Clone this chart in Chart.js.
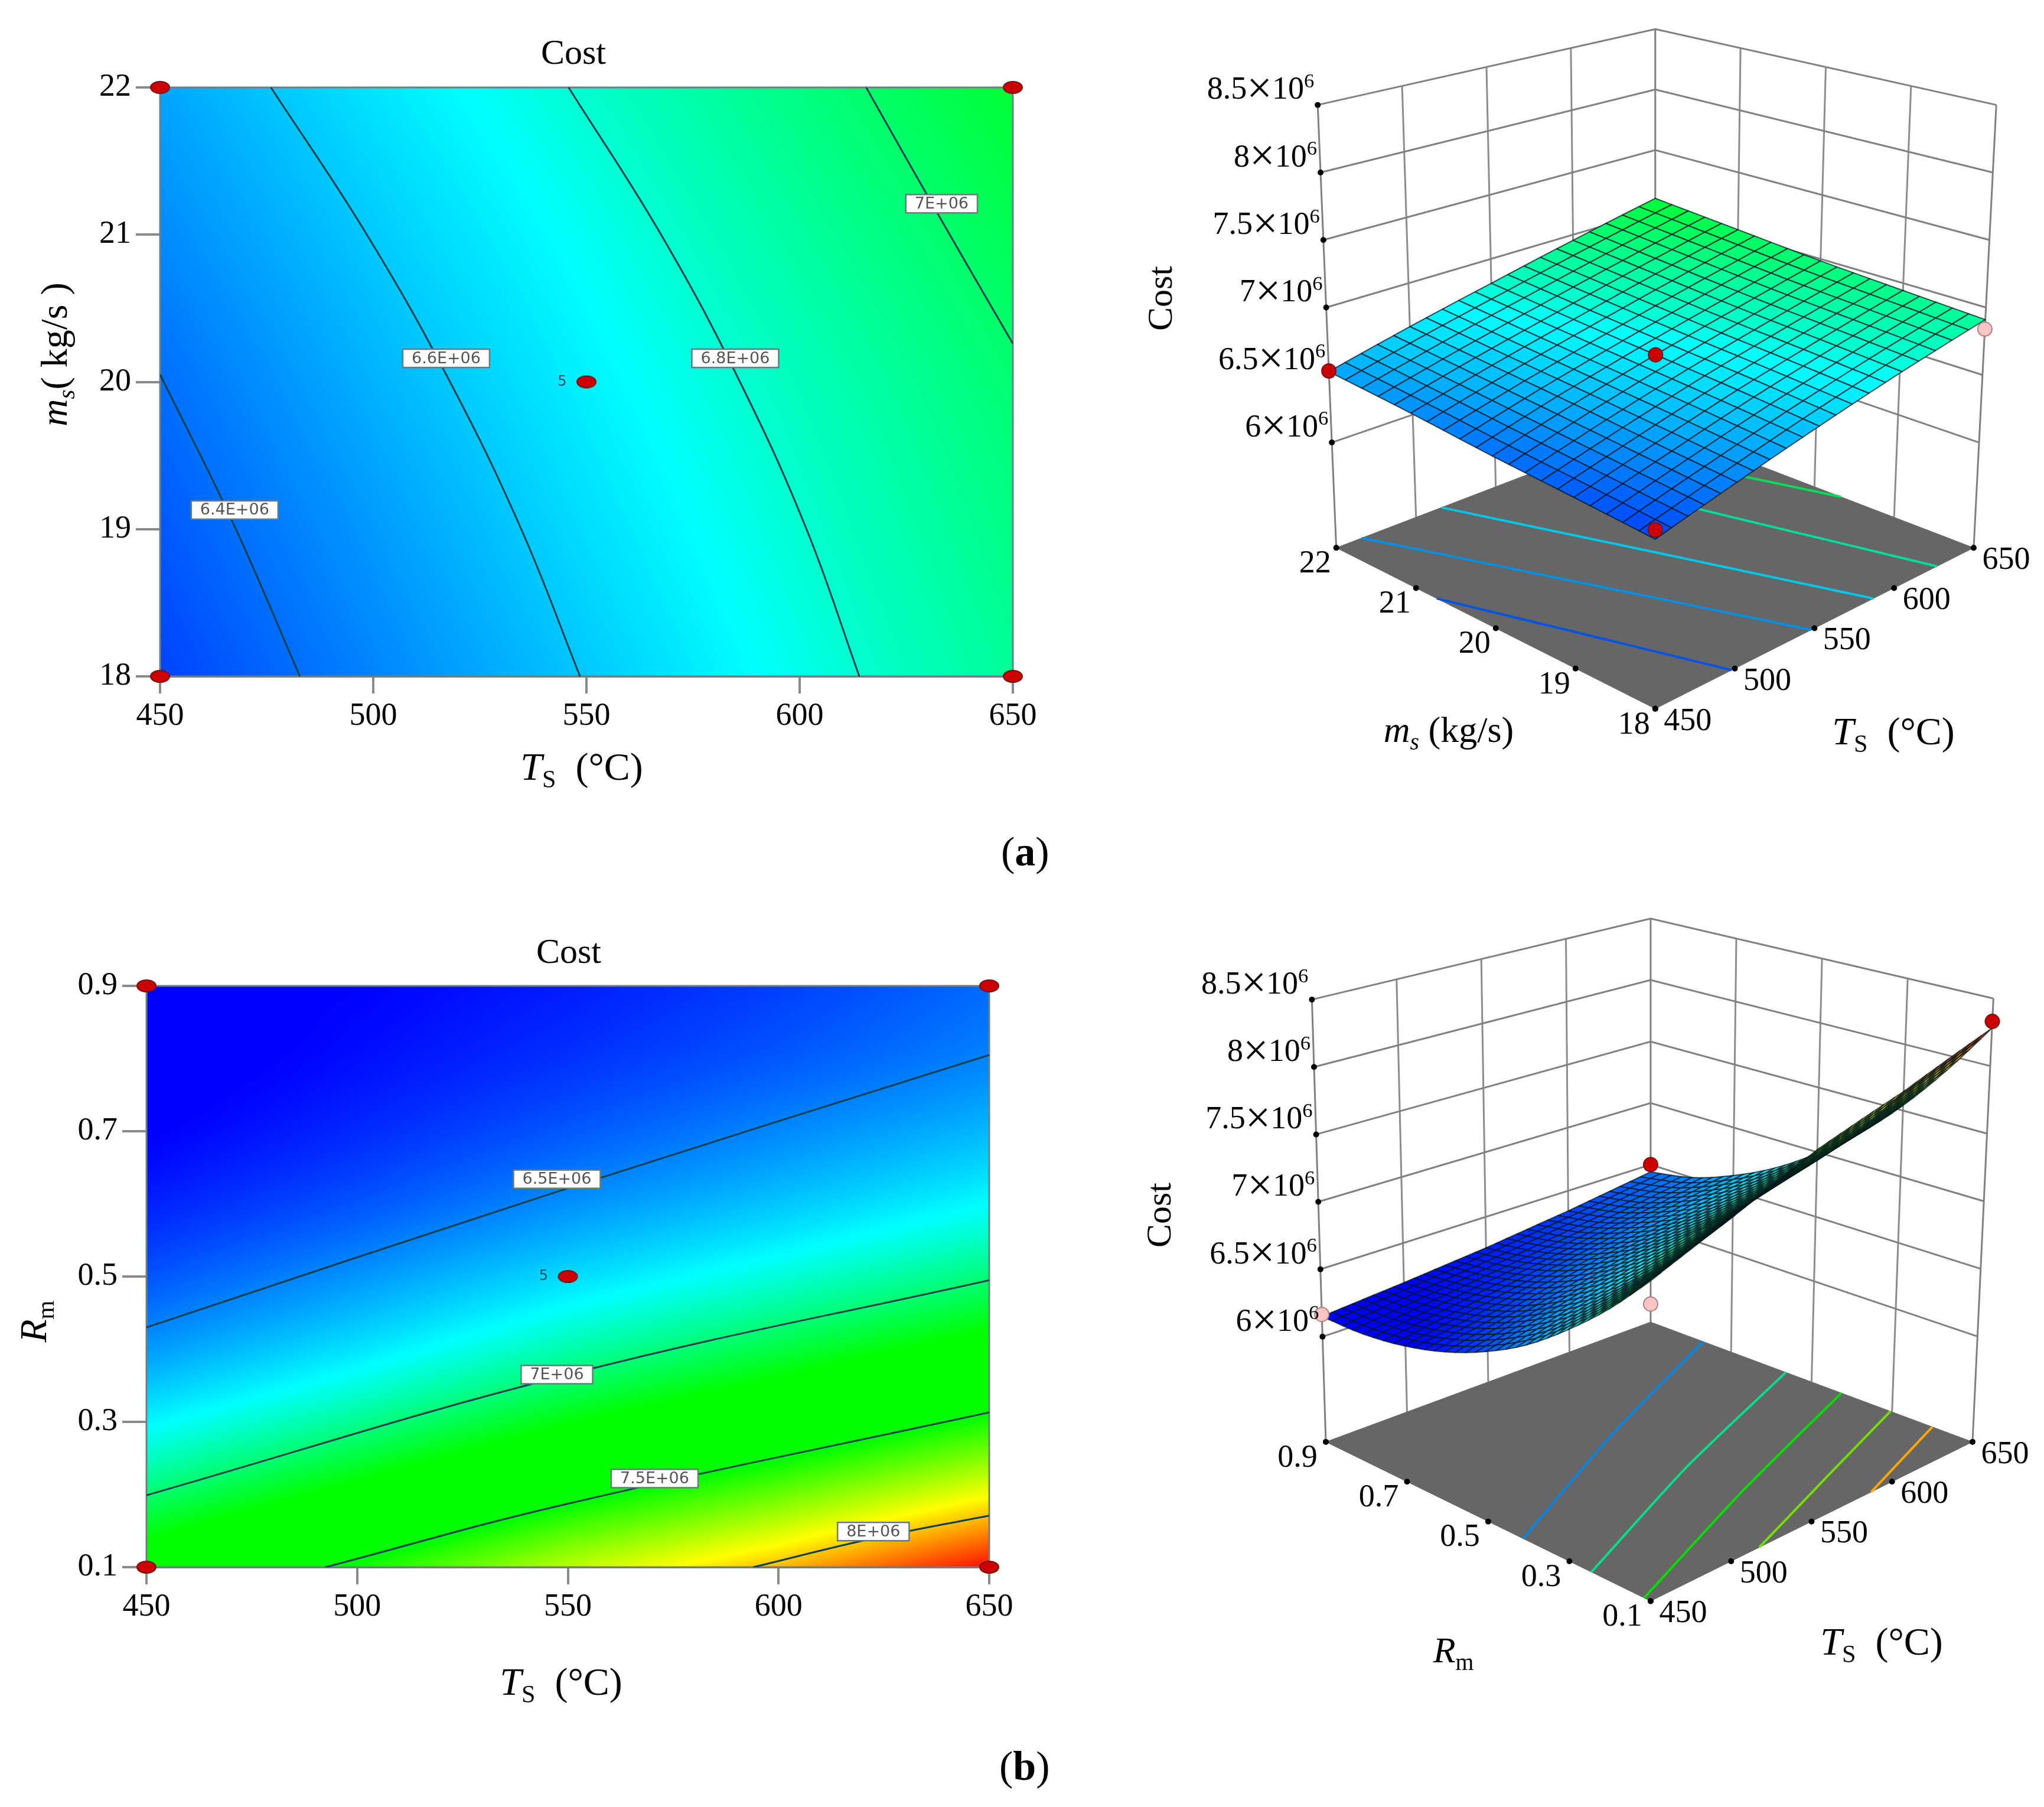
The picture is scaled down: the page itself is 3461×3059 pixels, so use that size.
<!DOCTYPE html>
<html>
<head>
<meta charset="utf-8">
<title>Cost response surfaces</title>
<script src="https://cdn.jsdelivr.net/npm/chart.js@4/dist/chart.umd.min.js"></script>
<style>
  html, body { margin: 0; padding: 0; background: #fff; }
  body { position: relative; width: 3461px; height: 3059px; overflow: hidden; }
  canvas { position: absolute; }
  .figLabel { position: absolute; font: 70px "Liberation Serif"; color: #000; }
</style>
</head>
<body>
<canvas id="contourA" width="1800" height="1400" style="left:0;top:0"></canvas>
<canvas id="surfaceA" width="1561" height="1400" style="left:1900px;top:0"></canvas>
<canvas id="contourB" width="1800" height="1400" style="left:0;top:1500px"></canvas>
<canvas id="surfaceB" width="1561" height="1400" style="left:1900px;top:1490px"></canvas>
<div class="figLabel" style="left:1695px;top:1402px">(<b>a</b>)</div>
<div class="figLabel" style="left:1692px;top:2950px">(<b>b</b>)</div>
<script>
// axis ticks
const tsTicks = [450, 500, 550, 600, 650];
const msTicks = [18, 19, 20, 21, 22];
const rmTicks = [0.1, 0.3, 0.5, 0.7, 0.9];
const costTicks = [6, 6.5, 7, 7.5, 8, 8.5]; // all cost values are in units of 1E6

// cost, one row per ms / Rm value, one column per tsTicks value
const msGrid = [18, 19, 20, 21, 22];
const costA = [
    [6.30, 6.45, 6.605, 6.76, 6.91],
    [6.35, 6.50, 6.655, 6.80, 6.945],
    [6.40, 6.555, 6.70, 6.84, 6.985],
    [6.465, 6.61, 6.75, 6.895, 7.04],
    [6.525, 6.67, 6.81, 6.955, 7.10]
];
const rmGrid = [0.1, 0.2, 0.3, 0.4, 0.5, 0.6, 0.7, 0.8, 0.9];
const costB = [
    [7.28, 7.52, 7.79, 8.01, 8.28],
    [7.00, 7.22, 7.46, 7.66, 7.89],
    [6.76, 6.95, 7.16, 7.34, 7.54],
    [6.55, 6.72, 6.91, 7.07, 7.24],
    [6.39, 6.54, 6.70, 6.84, 6.99],
    [6.27, 6.39, 6.53, 6.65, 6.78],
    [6.19, 6.29, 6.40, 6.51, 6.62],
    [6.15, 6.23, 6.31, 6.40, 6.50],
    [6.15, 6.20, 6.26, 6.34, 6.44]
];

// contour lines of the flat plots as [Ts, ms] or [Ts, Rm]
const contour64 = [[450, 20.05], [467, 19.05], [482.8, 18]];
const contour66 = [[476, 22], [498.5, 21], [518, 20], [534.7, 19], [548.5, 18]];
const contour68 = [[545.8, 22], [567.5, 21], [586, 20], [601.6, 19], [614, 18]];
const contour70 = [[615.6, 22], [633.6, 21.08], [650, 20.26]];
const contour65b = [[450, 0.43], [547, 0.616], [650, 0.805]];
const contour70b = [[450, 0.199], [550, 0.365], [650, 0.495]];
const contour75b = [[492.5, 0.1], [549, 0.186], [650, 0.313]];
const contour80b = [[594, 0.1], [622, 0.139], [650, 0.171]];

// contour lines on the floor of the 3D plots, they sit a little apart from the flat ones
const floorA1 = [[450, 20.74], [475, 19.4], [498, 18]];
const floorA2 = [[466, 22], [511, 20], [548, 18]];
const floorA3 = [[516, 22], [555, 20], [587, 18]];
const floorA4 = [[577, 22], [604, 20], [627, 18]];
const floorA5 = [[616, 22], [650, 19.67]];
const floorB1 = [[450, 0.414], [550, 0.595], [650, 0.769]];
const floorB2 = [[450, 0.246], [550, 0.41], [650, 0.564]];
const floorB3 = [[450, 0.116], [550, 0.272], [650, 0.426]];
const floorB4 = [[517.5, 0.1], [584, 0.2], [650, 0.304]];
const floorB5 = [[587, 0.1], [650, 0.2]];

// contour label boxes: Ts, ms or Rm, text
const labelsA = [[467.5, 19.13, '6.4E+06'], [517.1, 20.16, '6.6E+06'], [584.9, 20.16, '6.8E+06'], [633.3, 21.21, '7E+06']];
const labelsB = [[547.4, 0.634, '6.5E+06'], [547.4, 0.365, '7E+06'], [570.6, 0.222, '7.5E+06'], [622.5, 0.149, '8E+06']];

// design points: Ts, ms or Rm, cost
const pointsA = [[450, 18], [650, 18], [550, 20], [450, 22], [650, 22]];
const pointsB = [[450, 0.1], [650, 0.1], [550, 0.5], [450, 0.9], [650, 0.9]];
const redA3d = [[450, 18, 6.36], [450, 22, 6.53], [550, 20, 6.7]];
const pinkA3d = [[650, 18, 6.84]];
const redB3d = [[650, 0.1, 8.33], [650, 0.9, 6.5]];
const hiddenB3d = [[550, 0.5, 6.67]];
const pinkB3d = [[450, 0.9, 6.165], [450, 0.1, 7.13]];

const zMin = 5.22, zMax = 8.5;
const serif = '"Liberation Serif"';

// colour ramp of the response
const rampValues = [6.2, 6.78, 7.17, 7.5, 7.9, 8.3];
const rampColors = [[0, 0, 255], [0, 255, 255], [0, 255, 0], [0, 255, 0], [255, 255, 0], [255, 0, 0]];

function rampColor(v) {
    if (v <= rampValues[0]) return rampColors[0];
    for (var i = 1; i < rampValues.length; i++) {
        if (v <= rampValues[i]) {
            var t = (v - rampValues[i - 1]) / (rampValues[i] - rampValues[i - 1]);
            var a = rampColors[i - 1], b = rampColors[i];
            return [a[0] + (b[0] - a[0]) * t, a[1] + (b[1] - a[1]) * t, a[2] + (b[2] - a[2]) * t];
        }
    }
    return rampColors[rampColors.length - 1];
}

// panel (a) runs its ramp slightly differently from panel (b)
function colorValueA(v) {
    return v < 6.8 ? v + 0.05 : 6.85 + (v - 6.8) * 0.8;
}
function colorValueB(v) {
    return v;
}

function cssColor(c) {
    return 'rgb(' + Math.round(c[0]) + ',' + Math.round(c[1]) + ',' + Math.round(c[2]) + ')';
}

// value of a cost table between its read nodes: smooth across rows, straight along Ts
function costAt(table, rows, ts, r) {
    var fx = Math.min(Math.max((ts - tsTicks[0]) / (tsTicks[4] - tsTicks[0]), 0), 1) * (tsTicks.length - 1);
    var fy = Math.min(Math.max((r - rows[0]) / (rows[rows.length - 1] - rows[0]), 0), 1) * (rows.length - 1);
    var i = Math.min(Math.floor(fx), tsTicks.length - 2), j = Math.min(Math.floor(fy), rows.length - 2);
    var tx = fx - i, t = fy - j;
    function at(k) {
        var row = table[Math.min(Math.max(k, 0), rows.length - 1)];
        return row[i] * (1 - tx) + row[i + 1] * tx;
    }
    var p0 = j > 0 ? at(j - 1) : 2 * at(0) - at(1);
    var p1 = at(j), p2 = at(j + 1);
    var p3 = j + 2 < rows.length ? at(j + 2) : 2 * at(j + 1) - at(j);
    return 0.5 * (2 * p1 + (p2 - p0) * t + (2 * p0 - 5 * p1 + 4 * p2 - p3) * t * t + (3 * p1 - p0 - 3 * p2 + p3) * t * t * t);
}

// text with italic parts, subscripts and superscripts
function richText(ctx, segs, x, y, size, align, rotate) {
    ctx.save();
    ctx.translate(x, y);
    if (rotate) ctx.rotate(rotate);
    ctx.fillStyle = '#000';
    ctx.textBaseline = 'alphabetic';
    ctx.textAlign = 'left';
    function font(s) {
        var px = (s.sub || s.sup) ? size * 0.64 : (s.big ? size * 1.4 : size);
        return (s.i ? 'italic ' : '') + px + 'px ' + serif;
    }
    var total = 0;
    segs.forEach(function (s) { ctx.font = font(s); total += ctx.measureText(s.t).width; });
    var cx = align === 'right' ? -total : -total / 2;
    segs.forEach(function (s) {
        ctx.font = font(s);
        var dy = size * 0.33 + (s.sub ? size * 0.2 : 0) - (s.sup ? size * 0.36 : 0) + (s.big ? size * 0.12 : 0);
        ctx.fillText(s.t, cx, dy);
        cx += ctx.measureText(s.t).width;
    });
    ctx.restore();
}

const tsTitle = [{ t: 'T', i: 1 }, { t: 'S', sub: 1 }, { t: '  (°C)' }];
const msTitle = [{ t: 'm', i: 1 }, { t: 's', i: 1, sub: 1 }, { t: '( kg/s )' }];
const msTitle3d = [{ t: 'm', i: 1 }, { t: 's', i: 1, sub: 1 }, { t: ' (kg/s)' }];
const rmTitle = [{ t: 'R', i: 1 }, { t: 'm', sub: 1 }];

function ovalMarker() {
    var c = document.createElement('canvas');
    c.width = 36; c.height = 24;
    var g = c.getContext('2d');
    g.beginPath();
    g.ellipse(18, 12, 16, 10, 0, 0, Math.PI * 2);
    g.fillStyle = '#cc0000';
    g.fill();
    g.lineWidth = 2;
    g.strokeStyle = '#7a1010';
    g.stroke();
    return c;
}

function toXY(list) {
    return list.map(function (p) { return { x: p[0], y: p[1] }; });
}

// ---------- flat contour plots ----------
function contourChart(id, o) {
    var heat = {
        id: 'heat',
        beforeDatasetsDraw: function (chart) {
            var a = chart.chartArea, ctx = chart.ctx;
            var w = Math.round(a.right - a.left), h = Math.round(a.bottom - a.top);
            var img = ctx.createImageData(w, h);
            var sx = chart.scales.x, sy = chart.scales.y;
            for (var py = 0; py < h; py++) {
                var r = sy.getValueForPixel(a.top + py + 0.5);
                for (var px = 0; px < w; px++) {
                    var c = rampColor(o.colorValue(costAt(o.table, o.rows, sx.getValueForPixel(a.left + px + 0.5), r)));
                    var k = (py * w + px) * 4;
                    img.data[k] = c[0]; img.data[k + 1] = c[1]; img.data[k + 2] = c[2]; img.data[k + 3] = 255;
                }
            }
            ctx.putImageData(img, Math.round(a.left), Math.round(a.top));
            ctx.save();
            ctx.strokeStyle = '#6f7f7f';
            ctx.lineWidth = 3;
            ctx.strokeRect(a.left, a.top, a.right - a.left, a.bottom - a.top);
            ctx.restore();
        },
        afterDraw: function (chart) {
            var ctx = chart.ctx, sx = chart.scales.x, sy = chart.scales.y;
            // boxes on the contour lines
            o.labels.forEach(function (l) {
                var x = sx.getPixelForValue(l[0]), y = sy.getPixelForValue(l[1]);
                ctx.font = '27px "DejaVu Sans"';
                var w = ctx.measureText(l[2]).width + 30, h = 31;
                ctx.fillStyle = '#fff';
                ctx.strokeStyle = '#6a7a7a';
                ctx.lineWidth = 2.5;
                ctx.fillRect(x - w / 2, y - h / 2, w, h);
                ctx.strokeRect(x - w / 2, y - h / 2, w, h);
                ctx.fillStyle = '#555';
                ctx.textAlign = 'center';
                ctx.textBaseline = 'middle';
                ctx.fillText(l[2], x, y + 1);
            });
            // replicate count beside the centre point
            ctx.font = '24px "DejaVu Sans"';
            ctx.fillStyle = '#0a5060';
            ctx.textAlign = 'center';
            ctx.textBaseline = 'middle';
            ctx.fillText('5', sx.getPixelForValue(tsTicks[2]) - 41, sy.getPixelForValue(o.rows[Math.floor(o.rows.length / 2)]));
            // titles
            ctx.font = '60px ' + serif;
            ctx.fillStyle = '#000';
            ctx.fillText('Cost', o.titleX, o.titleY);
            richText(ctx, tsTitle, o.xTitleX, o.xTitleY, 66, 'center');
            richText(ctx, o.yTitle, o.yTitleX, o.yTitleY, 64, 'center', -Math.PI / 2);
        }
    };

    var datasets = [{
        data: toXY(o.points),
        pointStyle: ovalMarker(),
        pointRadius: 12,
        clip: false
    }];
    o.contours.forEach(function (line) {
        datasets.push({
            data: toXY(line),
            showLine: true,
            borderColor: '#0c3f4c',
            borderWidth: 3,
            pointRadius: 0,
            tension: 0.4
        });
    });

    new Chart(document.getElementById(id).getContext('2d'), {
        type: 'scatter',
        data: { datasets: datasets },
        options: {
            responsive: false,
            animation: false,
            events: [],
            layout: { padding: { top: o.top, right: o.right, left: 0, bottom: 0 } },
            plugins: { legend: { display: false }, tooltip: { enabled: false } },
            scales: {
                x: {
                    min: tsTicks[0],
                    max: tsTicks[4],
                    afterBuildTicks: function (s) { s.ticks = tsTicks.map(function (v) { return { value: v }; }); },
                    afterFit: function (s) { s.height = o.bottom; },
                    border: { color: '#6f7f7f', width: 3 },
                    grid: { drawOnChartArea: false, color: '#8a8a8a', lineWidth: 4, tickLength: 29 },
                    ticks: { color: '#000', padding: 6, autoSkip: false, maxRotation: 0, font: { family: serif, size: 54 } }
                },
                y: {
                    min: o.yTicks[0],
                    max: o.yTicks[o.yTicks.length - 1],
                    afterBuildTicks: function (s) { s.ticks = o.yTicks.map(function (v) { return { value: v }; }); },
                    afterFit: function (s) { s.width = o.left; },
                    border: { color: '#6f7f7f', width: 3 },
                    grid: { drawOnChartArea: false, color: '#8a8a8a', lineWidth: 4, tickLength: 41 },
                    ticks: {
                        color: '#000',
                        padding: 8,
                        autoSkip: false,
                        font: { family: serif, size: 54 },
                        callback: function (v) { return o.yDigits ? v.toFixed(o.yDigits) : String(v); }
                    }
                }
            }
        },
        plugins: [heat]
    });
}

contourChart('contourA', {
    left: 271, right: 85, top: 148, bottom: 255,
    table: costA, rows: msGrid, yTicks: msTicks, yDigits: 0, colorValue: colorValueA,
    points: pointsA, contours: [contour64, contour66, contour68, contour70], labels: labelsA,
    titleX: 971, titleY: 92, xTitleX: 985, xTitleY: 1298,
    yTitle: msTitle, yTitleX: 92, yTitleY: 600
});

contourChart('contourB', {
    left: 248, right: 125, top: 169, bottom: 247,
    table: costB, rows: rmGrid, yTicks: rmTicks, yDigits: 1, colorValue: colorValueB,
    points: pointsB, contours: [contour65b, contour70b, contour75b, contour80b], labels: labelsB,
    titleX: 963, titleY: 114, xTitleX: 950, xTitleY: 1347,
    yTitle: rmTitle, yTitleX: 57, yTitleY: 737
});

// ---------- 3D surface plots ----------
// corners of the floor and the top of the box inside each canvas: [front, right, left, back]
const viewA = {
    floor: [[905, 1210], [1454, 932], [355, 932], [905, 721]],
    top: [[905, 321], [1493, 167], [323, 167], [905, 36]]
};
const viewB = {
    floor: [[897, 1231], [1452, 956], [337, 956], [897, 749]],
    top: [[897, 350], [1488, 190], [313, 192], [897, 52]]
};

function bilinearCorner(q, u, v) {
    var out = [];
    for (var k = 0; k < 2; k++) {
        out[k] = q[0][k] * (1 - u) * (1 - v) + q[1][k] * u * (1 - v) + q[2][k] * (1 - u) * v + q[3][k] * u * v;
    }
    return out;
}

function project(view, u, v, z) {
    var a = bilinearCorner(view.floor, u, v), b = bilinearCorner(view.top, u, v);
    var w = (z - zMin) / (zMax - zMin);
    return { x: a[0] + (b[0] - a[0]) * w, y: a[1] + (b[1] - a[1]) * w };
}

function surfaceChart(id, o) {
    var view = o.view;
    var rMin = o.rTicks[0], rMax = o.rTicks[o.rTicks.length - 1];
    function uOf(ts) { return (ts - tsTicks[0]) / (tsTicks[4] - tsTicks[0]); }
    function vOf(r) { return (r - rMin) / (rMax - rMin); }
    function markerData(list) {
        return list.map(function (p) { return project(view, uOf(p[0]), vOf(p[1]), p[2]); });
    }
    function wallLine(pts, color, width) {
        return { data: pts, showLine: true, borderColor: color, borderWidth: width, pointRadius: 0 };
    }
    function marker(list, fill, edge) {
        return { data: markerData(list), pointRadius: 12, pointBackgroundColor: fill, pointBorderColor: edge, pointBorderWidth: 2, clip: false };
    }

    // datasets are painted last to first, so the frame comes at the end
    var datasets = [
        marker(o.red, '#cc0000', '#7a1010'),
        marker(o.pink, '#f8c4c4', '#b08080'),
        { data: [], label: 'surface' },
        marker(o.hidden, '#cc0000', '#7a1010')
    ];
    var surfaceIndex = 2;

    // tick dots
    var dots = [];
    costTicks.forEach(function (z) { dots.push(project(view, 0, 1, z)); });
    tsTicks.forEach(function (t) { dots.push(project(view, uOf(t), 0, zMin)); });
    o.rTicks.forEach(function (r) { dots.push(project(view, 0, vOf(r), zMin)); });
    datasets.push({ data: dots, pointRadius: 5, pointBackgroundColor: '#000', pointBorderWidth: 0, clip: false });

    // contours lying on the floor
    o.contours.forEach(function (c) {
        var col = rampColor(c.level);
        datasets.push({
            data: c.line.map(function (p) { return project(view, uOf(p[0]), vOf(p[1]), zMin); }),
            showLine: true,
            borderColor: cssColor([col[0], col[1] * 0.87, col[2] * 0.9]),
            borderWidth: 4,
            pointRadius: 0,
            tension: 0.2
        });
    });

    // floor
    datasets.push({
        data: [project(view, 0, 0, zMin), project(view, 1, 0, zMin), project(view, 1, 1, zMin), project(view, 0, 1, zMin), project(view, 0, 0, zMin)],
        showLine: true,
        fill: 'shape',
        backgroundColor: '#666666',
        borderColor: '#666666',
        borderWidth: 1,
        pointRadius: 0
    });

    // walls
    costTicks.forEach(function (z) {
        datasets.push(wallLine([project(view, 0, 1, z), project(view, 1, 1, z), project(view, 1, 0, z)], '#808080', 3));
    });
    tsTicks.slice(1, 4).forEach(function (t) {
        datasets.push(wallLine([project(view, uOf(t), 1, zMin), project(view, uOf(t), 1, zMax)], '#8c8c8c', 3));
    });
    o.rTicks.slice(1, 4).forEach(function (r) {
        datasets.push(wallLine([project(view, 1, vOf(r), zMin), project(view, 1, vOf(r), zMax)], '#8c8c8c', 3));
    });
    datasets.push(wallLine([project(view, 0, 1, zMin), project(view, 0, 1, zMax)], '#808080', 3));
    datasets.push(wallLine([project(view, 1, 1, zMin), project(view, 1, 1, zMax)], '#808080', 3));
    datasets.push(wallLine([project(view, 1, 0, zMin), project(view, 1, 0, zMax)], '#808080', 3));

    var surface = {
        id: 'surface3d',
        afterDatasetDraw: function (chart, args) {
            if (args.index !== surfaceIndex) return;
            var ctx = chart.ctx, sx = chart.scales.x, sy = chart.scales.y, n = o.meshCells;
            function corner(i, j) {
                var ts = tsTicks[0] + (tsTicks[4] - tsTicks[0]) * i / n, r = rMin + (rMax - rMin) * j / n;
                var c = costAt(o.table, o.rows, ts, r);
                var p = project(view, i / n, j / n, c);
                return { x: sx.getPixelForValue(p.x), y: sy.getPixelForValue(p.y), c: c };
            }
            ctx.save();
            ctx.lineWidth = 2;
            ctx.strokeStyle = 'rgba(0,20,30,0.75)';
            ctx.lineJoin = 'round';
            for (var i = n - 1; i >= 0; i--) {
                for (var j = n - 1; j >= 0; j--) {
                    var a = corner(i, j), b = corner(i + 1, j), c = corner(i + 1, j + 1), d = corner(i, j + 1);
                    ctx.beginPath();
                    ctx.moveTo(a.x, a.y);
                    ctx.lineTo(b.x, b.y);
                    ctx.lineTo(c.x, c.y);
                    ctx.lineTo(d.x, d.y);
                    ctx.closePath();
                    ctx.fillStyle = cssColor(rampColor(o.colorValue((a.c + b.c + c.c + d.c) / 4)));
                    ctx.fill();
                    ctx.stroke();
                }
            }
            ctx.restore();
        },
        afterDraw: function (chart) {
            var ctx = chart.ctx, sx = chart.scales.x, sy = chart.scales.y;
            function at(p) { return { x: sx.getPixelForValue(p.x), y: sy.getPixelForValue(p.y) }; }
            costTicks.forEach(function (z) {
                var p = at(project(view, 0, 1, z));
                richText(ctx, [{ t: String(z) }, { t: '×', big: 1 }, { t: '10' }, { t: '6', sup: 1 }], p.x - 6, p.y - 28, 54, 'right');
            });
            tsTicks.forEach(function (t) {
                var p = at(project(view, uOf(t), 0, zMin));
                richText(ctx, [{ t: String(t) }], p.x + 55, p.y + 18, 54, 'center');
            });
            o.rTicks.forEach(function (r) {
                var p = at(project(view, 0, vOf(r), zMin));
                richText(ctx, [{ t: o.rDigits ? r.toFixed(o.rDigits) : String(r) }], p.x - o.rLabelDx, p.y + 24, 54, 'center');
            });
            richText(ctx, [{ t: 'Cost' }], o.costX, o.costY, 60, 'center', -Math.PI / 2);
            richText(ctx, o.rTitle, o.rTitleX, o.rTitleY, 62, 'center');
            richText(ctx, tsTitle, o.tsTitleX, o.tsTitleY, 66, 'center');
        }
    };

    var canvas = document.getElementById(id);
    new Chart(canvas.getContext('2d'), {
        type: 'scatter',
        data: { datasets: datasets },
        options: {
            responsive: false,
            animation: false,
            events: [],
            layout: { padding: 0 },
            plugins: { legend: { display: false }, tooltip: { enabled: false } },
            scales: {
                x: { display: false, min: 0, max: canvas.width },
                y: { display: false, min: 0, max: canvas.height, reverse: true }
            }
        },
        plugins: [surface]
    });
}

surfaceChart('surfaceA', {
    view: viewA, table: costA, rows: msGrid, rTicks: msTicks, rDigits: 0, meshCells: 20, colorValue: colorValueA,
    red: redA3d, pink: pinkA3d, hidden: [],
    contours: [
        { line: floorA1, level: 6.42 }, { line: floorA2, level: 6.58 }, { line: floorA3, level: 6.72 },
        { line: floorA4, level: 6.9 }, { line: floorA5, level: 7.02 }
    ],
    rLabelDx: 36, costX: 64, costY: 505,
    rTitle: msTitle3d, rTitleX: 553, rTitleY: 1236, tsTitleX: 1306, tsTitleY: 1238
});

surfaceChart('surfaceB', {
    view: viewB, table: costB, rows: rmGrid, rTicks: rmTicks, rDigits: 1, meshCells: 32, colorValue: colorValueB,
    red: redB3d, pink: pinkB3d, hidden: hiddenB3d,
    contours: [
        { line: floorB1, level: 6.55 }, { line: floorB2, level: 6.93 }, { line: floorB3, level: 7.3 },
        { line: floorB4, level: 7.68 }, { line: floorB5, level: 8.0 }
    ],
    rLabelDx: 48, costX: 62, costY: 567,
    rTitle: rmTitle, rTitleX: 561, rTitleY: 1304, tsTitleX: 1286, tsTitleY: 1289
});
</script>
</body>
</html>
